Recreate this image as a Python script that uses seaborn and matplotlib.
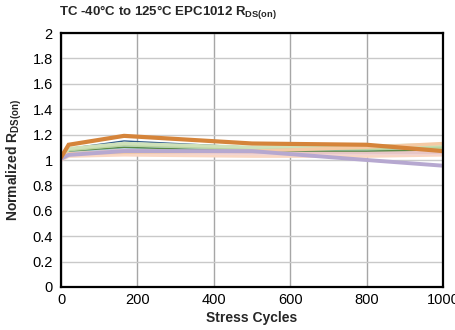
import numpy as np
import pandas as pd
import matplotlib
matplotlib.use("Agg")
import matplotlib.pyplot as plt
import seaborn as sns

# ---- data ----
cycles = [0, 20, 165, 500, 800, 1000]
series_names = ["S1", "S2", "S3", "S4", "S5", "S6", "S7", "S8", "S9", "S10", "S11"]
salmon     = [1.00, 1.03, 1.04, 1.03, 1.03, 1.04]
light_pink = [1.00, 1.05, 1.06, 1.05, 1.05, 1.05]
pink       = [1.00, 1.06, 1.08, 1.06, 1.06, 1.06]
light_blue = [1.01, 1.07, 1.10, 1.08, 1.08, 1.09]
dark_green = [1.01, 1.07, 1.10, 1.07, 1.07, 1.08]
navy       = [1.01, 1.09, 1.15, 1.10, 1.09, 1.09]
green      = [1.02, 1.08, 1.12, 1.09, 1.09, 1.10]
lgreen     = [1.01, 1.09, 1.13, 1.10, 1.11, 1.12]
peach      = [1.01, 1.05, 1.06, 1.07, 1.10, 1.13]
lavender   = [1.01, 1.04, 1.07, 1.07, 1.00, 0.955]
orange     = [1.02, 1.12, 1.19, 1.13, 1.12, 1.07]
series_vals = [salmon, light_pink, pink, light_blue, dark_green, navy,
               green, lgreen, peach, lavender, orange]
series_colors = ["#f9d6c2", "#f1d4d4", "#e8c6c6", "#a9cce4", "#5b8a45",
                 "#2f5b8a", "#b9d49f", "#cfe1ba", "#f5caa4", "#b6a8d0", "#d5843a"]
series_widths = [2.4, 2.4, 2.4, 2.0, 1.0, 1.0, 2.4, 2.4, 2.4, 2.8, 3.0]

x_ticks = [0, 200, 400, 600, 800, 1000]
y_ticks = [0, 0.2, 0.4, 0.6, 0.8, 1.0, 1.2, 1.4, 1.6, 1.8, 2.0]
y_tick_labels = ["0", "0.2", "0.4", "0.6", "0.8", "1", "1.2", "1.4", "1.6", "1.8", "2"]

sns.set_theme(style="white")
FONT = ["Liberation Sans", "DejaVu Sans"]
plt.rcParams["font.family"] = FONT
plt.rcParams["mathtext.fontset"] = "custom"
plt.rcParams["mathtext.rm"] = "Liberation Sans:bold"
plt.rcParams["mathtext.it"] = "Liberation Sans:bold"
plt.rcParams["mathtext.bf"] = "Liberation Sans:bold"

fig = plt.figure(figsize=(4.55, 3.30), dpi=100)
ax = fig.add_axes([61 / 455, 1 - 287 / 330, (443 - 61) / 455, (287 - 33) / 330])

for name, vals, col, lw in zip(series_names, series_vals, series_colors, series_widths):
    df = pd.DataFrame({"cycles": cycles, "value": vals})
    sns.lineplot(data=df, x="cycles", y="value", ax=ax, color=col,
                 linewidth=lw, legend=False, solid_joinstyle="miter")

ax.set_xlim(0, 1000)
ax.set_ylim(0, 2)
ax.set_xticks(x_ticks)
ax.set_xticklabels([str(t) for t in x_ticks])
ax.set_yticks(y_ticks)
ax.set_yticklabels(y_tick_labels)
ax.tick_params(axis="both", length=0, labelsize=10.5, colors="black")
ax.tick_params(axis="y", pad=6)
ax.tick_params(axis="x", pad=4)

ax.grid(True, axis="y", color="#c9c9c9", linewidth=1.0)
ax.grid(True, axis="x", color="#a6a6a6", linewidth=1.0)
ax.set_axisbelow(True)
for sp in ax.spines.values():
    sp.set_visible(True)
    sp.set_color("black")
    sp.set_linewidth(1.6)

ax.set_xlabel("Stress Cycles", fontsize=10, fontweight="bold", labelpad=3)
ax.set_ylabel(r"Normalized R$_{\mathrm{DS(on)}}$", fontsize=10, fontweight="bold", labelpad=6)
fig.text(59 / 455, 1 - 13 / 330, r"TC -40°C to 125°C EPC1012 R$_{\mathrm{DS(on)}}$",
         fontsize=9.5, fontweight="bold", ha="left", va="center")

fig.savefig("out.png", dpi=100)
